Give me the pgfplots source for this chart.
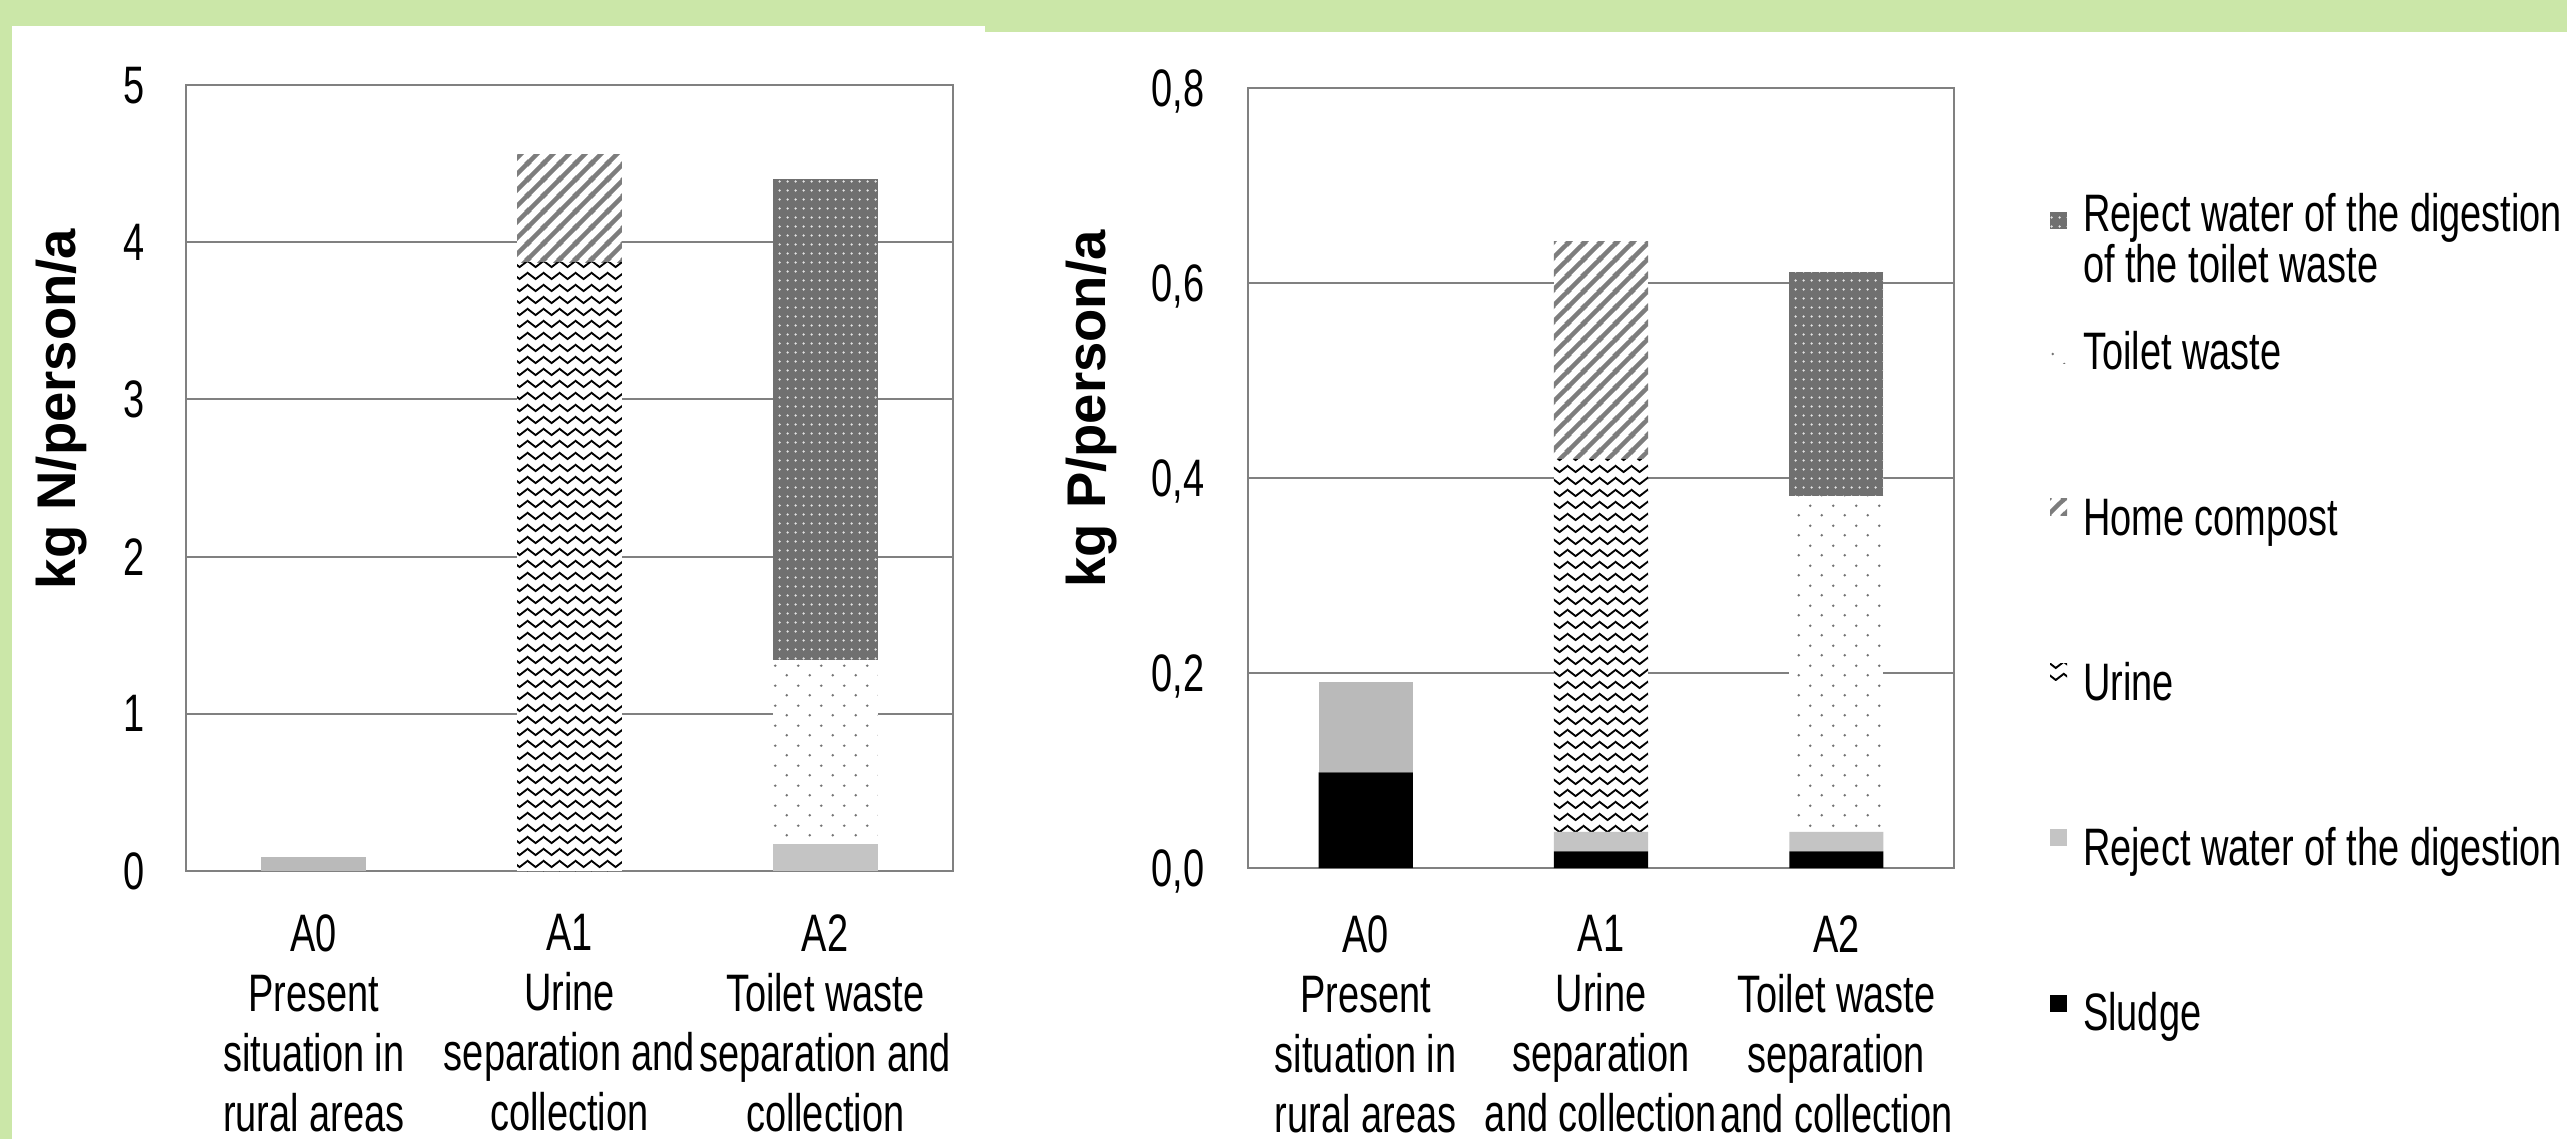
\documentclass[border=0pt]{standalone}
\usepackage{fontspec}
\setmainfont{Liberation Sans}[FakeStretch=0.72]
\newfontfamily\widefont{Liberation Sans}
\usepackage{pgfplots}
\usepackage{pgfplotstable}
\pgfplotsset{compat=1.18}
\usetikzlibrary{patterns,patterns.meta}

\definecolor{bggreen}{RGB}{203,231,168}
\definecolor{gridgray}{RGB}{128,128,128}
\definecolor{lightg}{RGB}{196,196,196}
\definecolor{darkg}{RGB}{112,112,112}
\definecolor{dotg}{RGB}{115,115,115}
\definecolor{hatchg}{RGB}{125,125,125}
\definecolor{compg}{RGB}{186,186,186}

\tikzdeclarepattern{
  name=zigzag, type=uncolored,
  bounding box={(0,0) and (0.16cm,0.117cm)},
  tile size={(0.16cm,0.117cm)},
  code={\draw[line width=0.55pt] (-0.02cm,0.105cm) -- (0.08cm,0.03cm) -- (0.18cm,0.105cm);}
}
\tikzdeclarepattern{
  name=twdots, type=uncolored,
  bounding box={(0,0) and (0.23cm,0.2cm)},
  tile size={(0.23cm,0.2cm)},
  code={\fill (0.0575cm,0.05cm) circle (0.014cm); \fill (0.1725cm,0.15cm) circle (0.014cm);}
}
\tikzdeclarepattern{
  name=gdots, type=uncolored,
  bounding box={(0,0) and (0.08cm,0.09cm)},
  tile size={(0.08cm,0.09cm)},
  code={\fill (0.04cm,0.045cm) circle (0.013cm);}
}
\tikzdeclarepattern{
  name=hatch, type=uncolored,
  bounding box={(0,0) and (0.16cm,0.16cm)},
  tile size={(0.16cm,0.16cm)},
  code={
    \draw[line width=1.3pt] (-0.04cm,-0.04cm) -- (0.2cm,0.2cm);
    \draw[line width=1.3pt] (-0.04cm,0.12cm) -- (0.04cm,0.2cm);
    \draw[line width=1.3pt] (0.12cm,-0.04cm) -- (0.2cm,0.04cm);
  }
}

% x: 0=A0, 1=A1, 2=A2 ; columns stacked bottom to top
\pgfplotstableread{
x sl rl ur co tw rt ca
0 0 0 0 0 0 0 0.09
1 0 0 3.87 0.69 0 0 0
2 0 0.17 0 0 1.17 3.06 0
}\Ndata
\pgfplotstableread{
x sl rl ur co tw rt ca
0 0.098 0 0 0 0 0 0.093
1 0.017 0.020 0.382 0.224 0 0 0
2 0.017 0.020 0 0 0.345 0.229 0
}\Pdata

\newcommand\legtext[1]{\raisebox{0pt}[0.61cm][0.27cm]{#1}}
\newcommand\legsecond[1]{\raisebox{0pt}[0.345cm][0.005cm]{#1}}
\newcommand\legfirst[1]{\raisebox{0pt}[0.26cm][-0.08cm]{#1}}

\pgfplotsset{
  mybase/.style={
    scale only axis,
    anchor=south west,
    ybar stacked,
    xmin=-0.5, xmax=2.5,
    xtick={0,1,2},
    axis line style={draw=gridgray, line width=0.6pt},
    ymajorgrids,
    major grid style={draw=gridgray, line width=0.6pt},
    major tick length=0pt,
    tick style={draw=none},
    /pgf/number format/assume math mode=true,
    tick label style={font=\fontsize{15}{17.07}\selectfont},
    xticklabel style={align=center, inner sep=0pt, anchor=north},
    yticklabel style={anchor=east, inner sep=0pt, text depth=0pt},
    area legend,
  },
  sludge/.style={draw=none, fill=black},
  rejl/.style={draw=none, fill=lightg},
  urine/.style={draw=none, fill=white, postaction={pattern=zigzag, pattern color=black}},
  compost/.style={draw=none, fill=white, postaction={pattern=hatch, pattern color=hatchg}},
  toilet/.style={draw=none, fill=white, postaction={pattern=twdots, pattern color=dotg}},
  rejtw/.style={draw=none, fill=darkg, postaction={pattern=gdots, pattern color=white!80!gray}},
  compA/.style={draw=none, fill=compg},
}

\begin{document}
\begin{tikzpicture}[x=1cm,y=1cm]
\path[use as bounding box] (0,0) rectangle (25.67,11.39);
\fill[bggreen] (0,0) rectangle (25.67,11.39);
\fill[white] (0.12,0) rectangle (9.85,11.13);
\fill[white] (9.85,0) rectangle (25.67,11.07);

\node[rotate=90, inner sep=0pt, font=\widefont\bfseries\fontsize{15.5}{18}\selectfont] at (0.62,7.30) {kg N/person/a};
\node[rotate=90, inner sep=0pt, font=\widefont\bfseries\fontsize{15.5}{18}\selectfont] at (10.92,7.30) {kg P/person/a};

\begin{axis}[mybase,
  at={(1.86cm,2.68cm)}, width=7.67cm, height=7.86cm,
  ymin=0, ymax=5, ytick={0,1,2,3,4,5},
  bar width=0.41,
  xticklabel style={yshift=-0.43cm},
  yticklabel style={xshift=-0.41cm},
  xticklabels={{A0\\Present\\situation in\\rural areas},{A1\\Urine\\separation and\\collection},{A2\\Toilet waste\\separation and\\collection}},
]
\addplot[sludge] table[x=x,y=sl] {\Ndata};
\addplot[rejl] table[x=x,y=rl] {\Ndata};
\addplot[urine] table[x=x,y=ur] {\Ndata};
\addplot[compost] table[x=x,y=co] {\Ndata};
\addplot[toilet] table[x=x,y=tw] {\Ndata};
\addplot[rejtw] table[x=x,y=rt] {\Ndata};
\addplot[compA] table[x=x,y=ca] {\Ndata};
\end{axis}

\begin{axis}[mybase,
  at={(12.48cm,2.71cm)}, width=7.06cm, height=7.80cm,
  ymin=0, ymax=0.8, ytick={0,0.2,0.4,0.6,0.8},
  /pgf/number format/fixed,
  /pgf/number format/fixed zerofill,
  /pgf/number format/precision=1,
  /pgf/number format/use comma,
  bar width=0.40,
  xticklabel style={yshift=-0.47cm},
  yticklabel style={xshift=-0.43cm},
  xticklabels={{A0\\Present\\situation in\\rural areas},{A1\\Urine\\separation\\and collection},{A2\\Toilet waste\\separation\\and collection}},
  legend style={at={(1.136,0.850)}, anchor=north west, draw=none, fill=none,
    inner sep=0pt, outer sep=0pt, row sep=0.99cm,
    font=\fontsize{15}{11}\selectfont,
    nodes={inner sep=0pt},
    /tikz/every odd column/.append style={column sep=0.16cm}},
  legend cell align=left,
  legend image code/.code={\path[#1] (0cm,-0.085cm) rectangle (0.17cm,0.085cm);},
]
\addlegendimage{rejtw}
\addlegendentry{\legfirst{\begin{tabular}[t]{@{}l@{}}Reject water of the digestion\\[0.5pt]of the toilet waste\end{tabular}}}
\addlegendimage{toilet}
\addlegendentry{\legsecond{Toilet waste}}
\addlegendimage{compost}
\addlegendentry{\legtext{Home compost}}
\addlegendimage{urine}
\addlegendentry{\legtext{Urine}}
\addlegendimage{rejl}
\addlegendentry{\legtext{Reject water of the digestion}}
\addlegendimage{sludge}
\addlegendentry{\legtext{Sludge}}
\addplot[sludge] table[x=x,y=sl] {\Pdata};
\addplot[rejl] table[x=x,y=rl] {\Pdata};
\addplot[urine] table[x=x,y=ur] {\Pdata};
\addplot[compost] table[x=x,y=co] {\Pdata};
\addplot[toilet] table[x=x,y=tw] {\Pdata};
\addplot[rejtw] table[x=x,y=rt] {\Pdata};
\addplot[compA] table[x=x,y=ca] {\Pdata};
\end{axis}
\end{tikzpicture}
\end{document}
